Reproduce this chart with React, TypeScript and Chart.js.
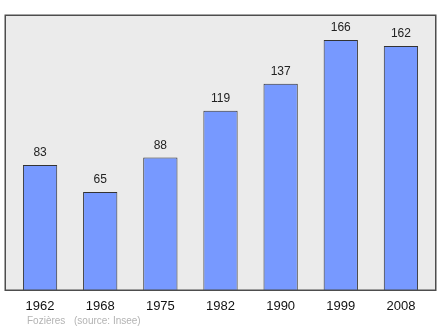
import React, { useEffect, useRef } from "react";
import { Chart, registerables } from "chart.js";

Chart.register(...registerables);

const years = ["1962", "1968", "1975", "1982", "1990", "1999", "2008"];
const population = [83, 65, 88, 119, 137, 166, 162];
const footerName = "Fozières";
const footerSource = "(source: Insee)";

const frame = {
  id: "frame",
  beforeDraw(chart: any) {
    const { ctx } = chart;
    ctx.save();
    ctx.fillStyle = "#ebebeb";
    ctx.fillRect(5, 15, 431, 275);
    ctx.restore();
  },
  afterDatasetsDraw(chart: any) {
    const { ctx } = chart;
    ctx.save();
    ctx.strokeStyle = "#4d4d4d";
    ctx.lineWidth = 1.5;
    ctx.strokeRect(5.25, 15.25, 430.5, 275);
    const meta = chart.getDatasetMeta(0);
    ctx.fillStyle = "#222";
    ctx.font = "12px 'Liberation Sans', Arial, sans-serif";
    ctx.textAlign = "center";
    ctx.textBaseline = "middle";
    meta.data.forEach((bar: any, i: number) => {
      ctx.fillText(String(population[i]), bar.x, bar.y - 12);
    });
    ctx.fillStyle = "#b3b3b3";
    ctx.font = "10px 'Liberation Sans', Arial, sans-serif";
    ctx.textAlign = "left";
    ctx.fillText(footerName, 27, 321);
    ctx.fillText(footerSource, 74, 321);
    ctx.restore();
  },
};

export default function App() {
  const ref = useRef<HTMLCanvasElement>(null);
  useEffect(() => {
    document.body.style.margin = "0";
    const chart = new Chart(ref.current!, {
      type: "bar",
      data: {
        labels: years,
        datasets: [
          {
            data: population,
            backgroundColor: "#7799ff",
            borderColor: "#333333",
            borderWidth: 1,
            barPercentage: 0.57,
            categoryPercentage: 1,
          },
        ],
      },
      options: {
        animation: false,
        responsive: false,
        maintainAspectRatio: false,
        layout: { padding: { left: 10, right: 9, top: 15, bottom: 0 } },
        plugins: { legend: { display: false }, tooltip: { enabled: false } },
        scales: {
          y: { display: false, min: 0, max: 182.6 },
          x: {
            grid: { display: false },
            border: { display: false },
            afterFit: (s: any) => {
              s.height = 39;
            },
            ticks: {
              color: "#111",
              padding: 1,
              font: { size: 13, family: "'Liberation Sans', Arial, sans-serif" },
            },
          },
        },
      },
      plugins: [frame],
    });
    return () => chart.destroy();
  }, []);
  return (
    <div style={{ width: 440, height: 329 }}>
      <canvas ref={ref} width={440} height={329} />
    </div>
  );
}
